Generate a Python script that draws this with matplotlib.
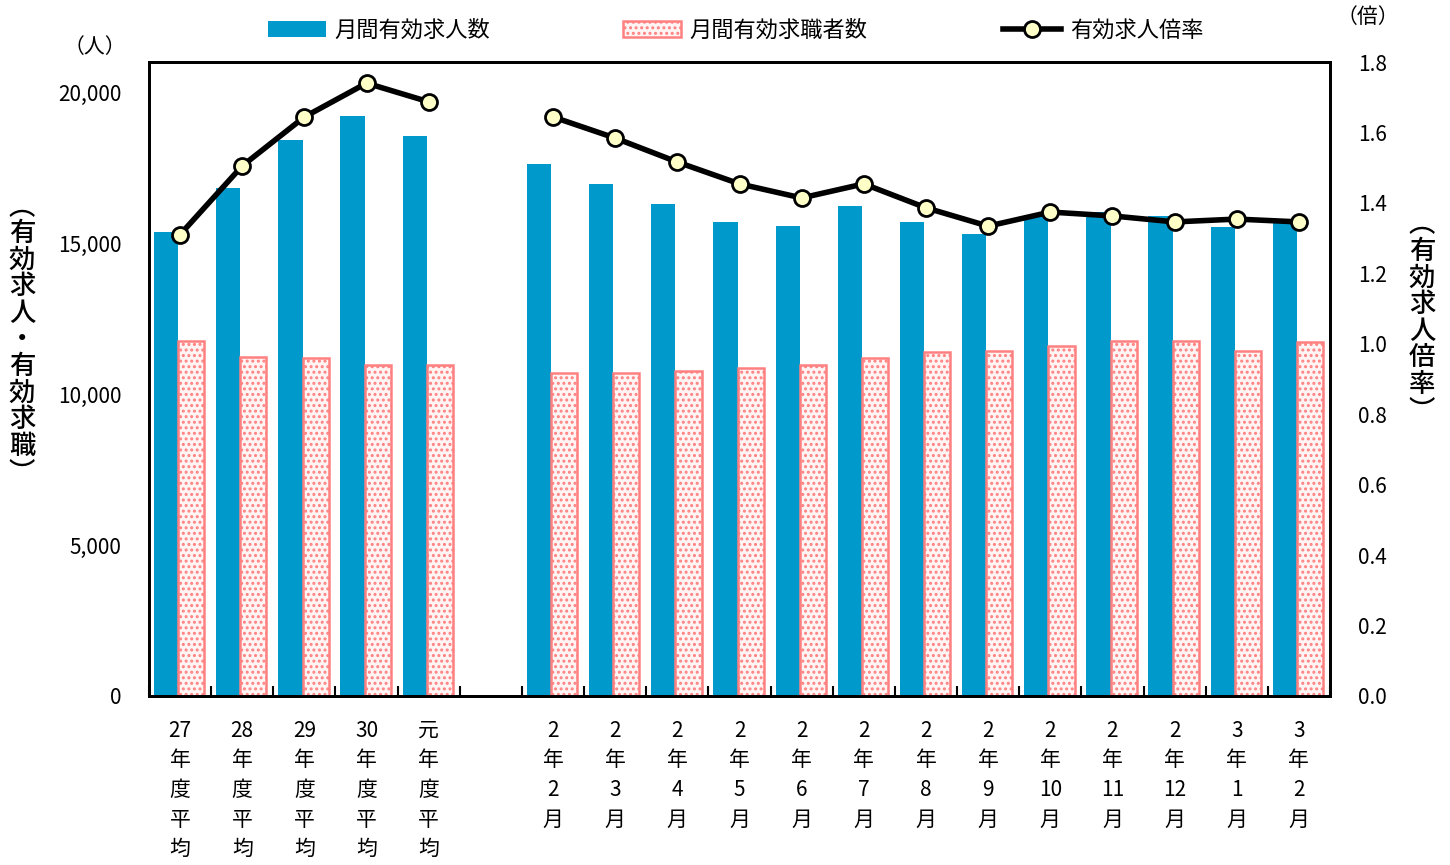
import numpy as np
import matplotlib
matplotlib.use('Agg')
import matplotlib.pyplot as plt

plt.rcParams['font.family'] = ['Noto Sans CJK JP', 'DejaVu Sans']
plt.rcParams['hatch.linewidth'] = 1.4

# data
labels = ["27\n年\n度\n平\n均", "28\n年\n度\n平\n均", "29\n年\n度\n平\n均",
          "30\n年\n度\n平\n均", "元\n年\n度\n平\n均", "",
          "2\n年\n2\n月", "2\n年\n3\n月", "2\n年\n4\n月", "2\n年\n5\n月",
          "2\n年\n6\n月", "2\n年\n7\n月", "2\n年\n8\n月", "2\n年\n9\n月",
          "2\n年\n10\n月", "2\n年\n11\n月", "2\n年\n12\n月", "3\n年\n1\n月",
          "3\n年\n2\n月"]
kyujin = [15360, 16820, 18410, 19200, 18540, np.nan,
          17610, 16950, 16290, 15690, 15560, 16220, 15690, 15290,
          15920, 16020, 15890, 15520, 15690]
kyushoku = [11770, 11240, 11180, 10980, 10980, np.nan,
            10710, 10710, 10780, 10850, 10980, 11180, 11380, 11440,
            11580, 11770, 11770, 11440, 11710]
bairitsu = [1.31, 1.505, 1.644, 1.74, 1.687, np.nan,
            1.644, 1.584, 1.516, 1.454, 1.414, 1.454, 1.386, 1.334,
            1.374, 1.363, 1.346, 1.354, 1.346]

x = np.arange(len(labels))
blue = "#0099CC"
pink = "#FF8080"

fig = plt.figure(figsize=(14.5, 8.65), dpi=100)
ax = fig.add_axes([149/1450, 169/865, 1181/1450, 634/865])
ax2 = ax.twinx()

b1 = ax.bar(x - 0.225, kyujin, width=0.39, color=blue, zorder=2)
b2 = ax.bar(x + 0.18, kyushoku, width=0.42, color="#FFF4F4", edgecolor=pink,
            hatch="...", linewidth=1.8, zorder=2)

# line is split at the empty slot
ln, = ax2.plot(x[:5], bairitsu[:5], color="black", lw=4, marker="o", ms=11.5,
               mfc="#FFFFC8", mec="black", mew=2, zorder=3)
ax2.plot(x[6:], bairitsu[6:], color="black", lw=4, marker="o", ms=11.5,
         mfc="#FFFFC8", mec="black", mew=2, zorder=3)

ax.set_xlim(-0.5, len(labels) - 0.5)
ax.set_ylim(0, 21000)
ax2.set_ylim(0, 1.8)
ax.set_yticks([0, 5000, 10000, 15000, 20000])
ax.set_yticklabels(["0", "5,000", "10,000", "15,000", "20,000"], fontsize=15)
ax2.set_yticks(np.arange(0, 1.81, 0.2))
ax2.set_yticklabels([f"{v:.1f}" for v in np.arange(0, 1.81, 0.2)], fontsize=15)
ax.tick_params(axis="y", length=0, pad=20)
ax2.tick_params(axis="y", length=0, pad=20)

ax.set_xticks(x)
ax.set_xticklabels(labels, fontsize=15, linespacing=1.45, va="top")
ax.tick_params(axis="x", length=0, pad=17)
ax.set_xticks(np.arange(-0.5, len(labels), 1), minor=True)
ax.tick_params(axis="x", which="minor", direction="in", length=7, width=1.5)

for a in (ax, ax2):
    for s in a.spines.values():
        s.set_linewidth(2)

fig.text(95/1450, 1 - 47/865, "（人）", fontsize=15, ha="center", va="center")
fig.text(1368/1450, 1 - 17/865, "（倍）", fontsize=15, ha="center", va="center")
fig.text(22/1450, 1 - 340/865, "︵\n有\n効\n求\n人\n・\n有\n効\n求\n職\n︶", fontsize=19,
         ha="center", va="center", linespacing=0.98, fontweight="medium")
fig.text(1422/1450, 1 - 318/865, "︵\n有\n効\n求\n人\n倍\n率\n︶", fontsize=19,
         ha="center", va="center", linespacing=0.98, fontweight="medium")

# three legend entries placed separately like the original
leg_items = [(b1, "月間有効求人数", 268), (b2, "月間有効求職者数", 623), (ln, "有効求人倍率", 1003)]
for h, txt, px in leg_items:
    fig.legend([h], [txt], loc="center left", bbox_to_anchor=(px/1450, 1 - 30/865),
               frameon=False, fontsize=16, handlelength=2.6, handletextpad=0.4,
               borderaxespad=0, borderpad=0)

fig.savefig("out.png", dpi=100)
